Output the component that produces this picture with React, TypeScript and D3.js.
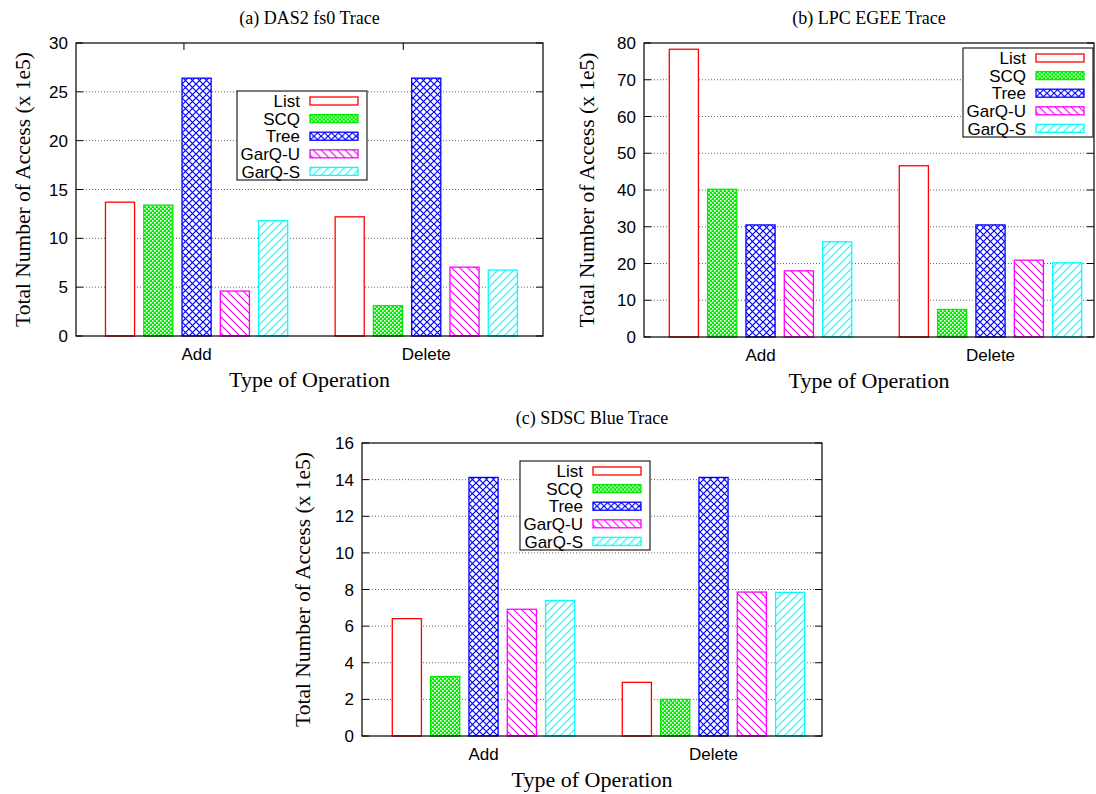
import React from "react";
import * as d3 from "d3";

const categories = ["Add", "Delete"];
const seriesNames = ["List", "SCQ", "Tree", "GarQ-U", "GarQ-S"];

const das2Add = [13.7, 13.4, 26.4, 4.6, 11.8];
const das2Delete = [12.2, 3.1, 26.4, 7.05, 6.75];
const lpcAdd = [78.3, 40.2, 30.5, 18.0, 25.9];
const lpcDelete = [46.6, 7.5, 30.5, 20.9, 20.2];
const sdscAdd = [6.41, 3.25, 14.12, 6.92, 7.39];
const sdscDelete = [2.93, 2.0, 14.12, 7.86, 7.84];

const das2Ticks = [0, 5, 10, 15, 20, 25, 30];
const lpcTicks = [0, 10, 20, 30, 40, 50, 60, 70, 80];
const sdscTicks = [0, 2, 4, 6, 8, 10, 12, 14, 16];

const colors = ["#ff0000", "#00ee00", "#0000ff", "#ff00ff", "#00ffff"];
const fills = ["#ffffff", "url(#pSCQ)", "url(#pTree)", "url(#pGU)", "url(#pGS)"];

const yLabel = "Total Number of Access (x 1e5)";
const xLabel = "Type of Operation";

interface Panel {
  id: string;
  title: string;
  left: number;
  right: number;
  top: number;
  bottom: number;
  domain: [number, number];
  yMax: number;
  ticks: number[];
  values: number[][];
  legendX: number;
  legendY: number;
  yLabelX: number;
  topTicks: number[];
}

const panels: Panel[] = [
  {
    id: "a",
    title: "(a) DAS2 fs0 Trace",
    left: 76, right: 543, top: 43, bottom: 336,
    domain: [-3.15, 9.05], yMax: 30, ticks: das2Ticks,
    values: [das2Add, das2Delete],
    legendX: 237, legendY: 91, yLabelX: 22,
    topTicks: [-0.33, 5.4],
  },
  {
    id: "b",
    title: "(b) LPC EGEE Trace",
    left: 644, right: 1094, top: 43, bottom: 337,
    domain: [-3.04, 8.7], yMax: 80, ticks: lpcTicks,
    values: [lpcAdd, lpcDelete],
    legendX: 963, legendY: 48, yLabelX: 586,
    topTicks: [],
  },
  {
    id: "c",
    title: "(c) SDSC Blue Trace",
    left: 362, right: 822, top: 443, bottom: 736,
    domain: [-3.17, 8.83], yMax: 16, ticks: sdscTicks,
    values: [sdscAdd, sdscDelete],
    legendX: 520, legendY: 461, yLabelX: 302,
    topTicks: [],
  },
];

const sans = "'Liberation Sans', Arial, Helvetica, sans-serif";
const serif = "'Liberation Serif', 'Times New Roman', serif";

function Defs() {
  return (
    <defs>
      <pattern id="pSCQ" patternUnits="userSpaceOnUse" width="4" height="4">
        <rect width="4" height="4" fill="#00ee00" />
        <rect x="0" y="0" width="1.6" height="1.6" fill="#ffffff" />
        <rect x="2" y="2" width="1.6" height="1.6" fill="#ffffff" />
      </pattern>
      <pattern id="pTree" patternUnits="userSpaceOnUse" width="7" height="7">
        <rect width="7" height="7" fill="#ffffff" />
        <path d="M0,0L7,7M7,0L0,7" stroke="#0000ff" strokeWidth="1.2" />
      </pattern>
      <pattern id="pGU" patternUnits="userSpaceOnUse" width="8" height="8">
        <rect width="8" height="8" fill="#ffffff" />
        <path d="M0,0L8,8M-1,7L1,9M7,-1L9,1" stroke="#ff00ff" strokeWidth="1.2" />
      </pattern>
      <pattern id="pGS" patternUnits="userSpaceOnUse" width="8" height="8">
        <rect width="8" height="8" fill="#ffffff" />
        <path d="M0,8L8,0M-1,1L1,-1M7,9L9,7" stroke="#00ffff" strokeWidth="1.2" />
      </pattern>
    </defs>
  );
}

function PanelView({ p }: { p: Panel }) {
  const x = d3.scaleLinear().domain(p.domain).range([p.left, p.right]);
  const y = d3.scaleLinear().domain([0, p.yMax]).range([p.bottom, p.top]);
  const half = 0.38;
  const midY = (p.top + p.bottom) / 2;
  const midX = (p.left + p.right) / 2;
  const rowH = 17.6;
  return (
    <g>
      {p.ticks.filter((t) => t > 0 && t < p.yMax).map((t) => (
        <line key={"g" + t} x1={p.left + 7} x2={p.right - 7} y1={y(t)} y2={y(t)}
          stroke="#666" strokeWidth={1} strokeDasharray="1,2" />
      ))}
      {p.ticks.map((t) => (
        <g key={"t" + t}>
          <line x1={p.left} x2={p.left + 7} y1={y(t)} y2={y(t)} stroke="#000" />
          <line x1={p.right - 7} x2={p.right} y1={y(t)} y2={y(t)} stroke="#000" />
          <text x={p.left - 8} y={y(t)} dy="0.36em" textAnchor="end"
            fontFamily={sans} fontSize={17} fill="#000">{t}</text>
        </g>
      ))}
      {p.topTicks.map((t, i) => (
        <line key={"tt" + i} x1={x(t)} x2={x(t)} y1={p.top} y2={p.top + 7} stroke="#000" />
      ))}
      {p.values.map((vals, gi) =>
        vals.map((v, j) => {
          const slot = gi * 6 + (j - 2);
          const x0 = x(slot - half);
          const x1 = x(slot + half);
          return (
            <rect key={gi + "-" + j} x={x0} y={y(v)} width={x1 - x0} height={y(0) - y(v)}
              fill={fills[j]} stroke={colors[j]} strokeWidth={1.3} />
          );
        })
      )}
      <rect x={p.left} y={p.top} width={p.right - p.left} height={p.bottom - p.top}
        fill="none" stroke="#000" strokeWidth={1.2} />
      {categories.map((c, gi) => (
        <text key={c} x={x(gi * 6)} y={p.bottom + 24} textAnchor="middle"
          fontFamily={sans} fontSize={17} fill="#000">{c}</text>
      ))}
      <text x={midX} y={p.bottom + 51} textAnchor="middle" fontFamily={serif} fontSize={22} fill="#000">{xLabel}</text>
      <text x={midX} y={p.top - 19} textAnchor="middle" fontFamily={serif} fontSize={18} fill="#000">{p.title}</text>
      <text transform={`translate(${p.yLabelX},${midY}) rotate(-90)`} textAnchor="middle" dy="0.35em"
        fontFamily={serif} fontSize={21.5} fill="#000">{yLabel}</text>
      <g transform={`translate(${p.legendX},${p.legendY})`}>
        <rect x={0} y={0} width={130} height={89} fill="#fff" stroke="#222" strokeWidth={1.2} />
        {seriesNames.map((s, j) => (
          <g key={s} transform={`translate(0,${10 + j * rowH})`}>
            <text x={63} y={0} dy="0.36em" textAnchor="end" fontFamily={sans} fontSize={17} fill="#000">{s}</text>
            <rect x={73} y={-4} width={48} height={8} fill={fills[j]} stroke={colors[j]} strokeWidth={1.3} />
          </g>
        ))}
      </g>
    </g>
  );
}

export default function App() {
  return (
    <svg width={1096} height={794} style={{ position: "absolute", left: 0, top: 0, background: "#fff" }}>
      <Defs />
      <rect width={1096} height={794} fill="#fff" />
      {panels.map((p) => <PanelView key={p.id} p={p} />)}
    </svg>
  );
}
